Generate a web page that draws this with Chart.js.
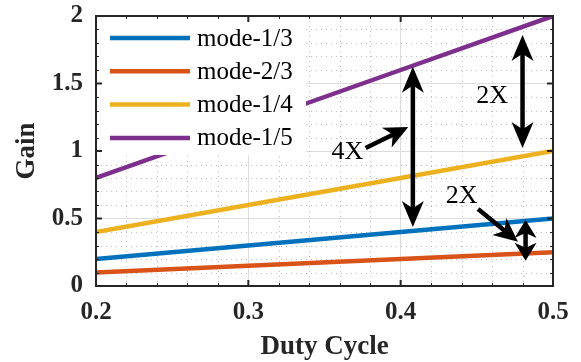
<!DOCTYPE html>
<html>
<head>
<meta charset="utf-8">
<script src="https://cdn.jsdelivr.net/npm/chart.js@4.4.1/dist/chart.umd.min.js"></script>
<style>
html, body { margin: 0; padding: 0; background: #fff; }
</style>
</head>
<body>
<canvas id="drawChart" width="581" height="362"></canvas>
<script>
// data
var duty = [0.2, 0.3, 0.4, 0.5];
var gain13 = [0.2, 0.3, 0.4, 0.5];
var gain23 = [0.1, 0.15, 0.2, 0.25];
var gain14 = [0.4, 0.6, 0.8, 1.0];
var gain15 = [0.8, 1.2, 1.6, 2.0];
var seriesNames = ['mode-1/3', 'mode-2/3', 'mode-1/4', 'mode-1/5'];
var seriesColors = ['#0072BD', '#D95319', '#EDB120', '#7E2F8E'];
var xTicks = [0.2, 0.3, 0.4, 0.5];
var yTicks = [0, 0.5, 1, 1.5, 2];

// annotations (data coordinates)
var arrows = [
	{ x1: 0.408, y1: 0.437, x2: 0.408, y2: 1.624, both: true, head: 26 },
	{ x1: 0.377, y1: 1.022, x2: 0.405, y2: 1.178, both: false, head: 24 },
	{ x1: 0.480, y1: 1.022, x2: 0.480, y2: 1.859, both: true, head: 26 },
	{ x1: 0.4508, y1: 0.570, x2: 0.477, y2: 0.328, both: false, head: 24 },
	{ x1: 0.482, y1: 0.187, x2: 0.482, y2: 0.489, both: true, head: 18 }
];
var notes = [
	{ x: 0.365, y: 1.0, text: '4X' },
	{ x: 0.460, y: 1.415, text: '2X' },
	{ x: 0.440, y: 0.674, text: '2X' }
];

var FONT = "'Liberation Serif', 'Times New Roman', serif";
var INK = '#262626';

function pts(ys) {
	return duty.map(function (d, i) { return { x: d, y: ys[i] }; });
}

var allGains = [gain13, gain23, gain14, gain15];
var datasets = allGains.map(function (g, i) {
	return {
		label: seriesNames[i],
		data: pts(g),
		borderColor: seriesColors[i],
		backgroundColor: seriesColors[i],
		borderWidth: 4.5,
		pointRadius: 0,
		borderCapStyle: 'butt',
		tension: 0
	};
});

function drawHead(ctx, tx, ty, ux, uy, L, W) {
	var nx = -uy, ny = ux;
	ctx.beginPath();
	ctx.moveTo(tx, ty);
	ctx.lineTo(tx - ux * L + nx * W / 2, ty - uy * L + ny * W / 2);
	ctx.lineTo(tx - ux * L * 0.72, ty - uy * L * 0.72);
	ctx.lineTo(tx - ux * L - nx * W / 2, ty - uy * L - ny * W / 2);
	ctx.closePath();
	ctx.fill();
}

var minorGrid = {
	id: 'minorGrid',
	beforeDatasetsDraw: function (chart) {
		var ctx = chart.ctx, a = chart.chartArea;
		var xs = chart.scales.x, ys = chart.scales.y;
		ctx.save();
		ctx.strokeStyle = '#bdbdbd';
		ctx.lineWidth = 1;
		ctx.setLineDash([1, 4]);
		for (var i = 1; i < 15; i++) {
			if (i % 5 === 0) continue;
			var px = Math.round(xs.getPixelForValue(0.2 + i * 0.02)) + 0.5;
			ctx.beginPath(); ctx.moveTo(px, a.top); ctx.lineTo(px, a.bottom); ctx.stroke();
		}
		for (var j = 1; j < 20; j++) {
			if (j % 5 === 0) continue;
			var py = Math.round(ys.getPixelForValue(j * 0.1)) + 0.5;
			ctx.beginPath(); ctx.moveTo(a.left, py); ctx.lineTo(a.right, py); ctx.stroke();
		}
		ctx.restore();
	}
};

var overlay = {
	id: 'overlay',
	afterDatasetsDraw: function (chart) {
		var ctx = chart.ctx, a = chart.chartArea;
		var xs = chart.scales.x, ys = chart.scales.y;
		ctx.save();

		// legend box (opaque, no border)
		ctx.fillStyle = '#fff';
		ctx.fillRect(a.left, a.top, 210, 139);
		ctx.font = '25px ' + FONT;
		ctx.textBaseline = 'middle';
		ctx.textAlign = 'left';
		seriesNames.forEach(function (n, i) {
			var y = a.top + 22 + i * 33.3;
			ctx.strokeStyle = seriesColors[i];
			ctx.lineWidth = 4.5;
			ctx.beginPath(); ctx.moveTo(a.left + 14, y); ctx.lineTo(a.left + 94, y); ctx.stroke();
			ctx.fillStyle = '#000';
			ctx.fillText(n, a.left + 101, y + 1);
		});

		// arrows
		ctx.fillStyle = '#000';
		ctx.strokeStyle = '#000';
		ctx.lineWidth = 4.5;
		arrows.forEach(function (ar) {
			var x1 = xs.getPixelForValue(ar.x1), y1 = ys.getPixelForValue(ar.y1);
			var x2 = xs.getPixelForValue(ar.x2), y2 = ys.getPixelForValue(ar.y2);
			var dx = x2 - x1, dy = y2 - y1, len = Math.sqrt(dx * dx + dy * dy);
			var ux = dx / len, uy = dy / len;
			var L = ar.head, W = 22;
			var sx = ar.both ? x1 + ux * L * 0.7 : x1, sy = ar.both ? y1 + uy * L * 0.7 : y1;
			ctx.beginPath();
			ctx.moveTo(sx, sy);
			ctx.lineTo(x2 - ux * L * 0.7, y2 - uy * L * 0.7);
			ctx.stroke();
			drawHead(ctx, x2, y2, ux, uy, L, W);
			if (ar.both) drawHead(ctx, x1, y1, -ux, -uy, L, W);
		});
		ctx.font = '26px ' + FONT;
		ctx.textAlign = 'center';
		notes.forEach(function (n) {
			ctx.fillText(n.text, xs.getPixelForValue(n.x), ys.getPixelForValue(n.y) + 1);
		});

		// axes box and ticks
		ctx.strokeStyle = INK;
		ctx.lineWidth = 2;
		ctx.strokeRect(a.left, a.top, a.right - a.left, a.bottom - a.top);
		xTicks.forEach(function (v) {
			var px = xs.getPixelForValue(v);
			ctx.beginPath();
			ctx.moveTo(px, a.bottom); ctx.lineTo(px, a.bottom - 6);
			ctx.moveTo(px, a.top); ctx.lineTo(px, a.top + 6);
			ctx.stroke();
		});
		yTicks.forEach(function (v) {
			var py = ys.getPixelForValue(v);
			ctx.beginPath();
			ctx.moveTo(a.left, py); ctx.lineTo(a.left + 6, py);
			ctx.moveTo(a.right, py); ctx.lineTo(a.right - 6, py);
			ctx.stroke();
		});
		ctx.lineWidth = 1;
		for (var i = 1; i < 15; i++) {
			if (i % 5 === 0) continue;
			var px = Math.round(xs.getPixelForValue(0.2 + i * 0.02)) + 0.5;
			ctx.beginPath();
			ctx.moveTo(px, a.bottom); ctx.lineTo(px, a.bottom - 3);
			ctx.moveTo(px, a.top); ctx.lineTo(px, a.top + 3);
			ctx.stroke();
		}
		for (var j = 1; j < 20; j++) {
			if (j % 5 === 0) continue;
			var py = Math.round(ys.getPixelForValue(j * 0.1)) + 0.5;
			ctx.beginPath();
			ctx.moveTo(a.left, py); ctx.lineTo(a.left + 3, py);
			ctx.moveTo(a.right, py); ctx.lineTo(a.right - 3, py);
			ctx.stroke();
		}
		ctx.restore();
	}
};

var ctx = document.getElementById('drawChart').getContext('2d');
var drawChart = new Chart(ctx, {
	type: 'line',
	data: { datasets: datasets },
	plugins: [minorGrid, overlay],
	options: {
		responsive: false,
		devicePixelRatio: 1,
		animation: false,
		layout: { padding: { top: 16, right: 28, left: 0, bottom: 0 } },
		plugins: { legend: { display: false }, tooltip: { enabled: false } },
		scales: {
			x: {
				type: 'linear',
				min: 0.2,
				max: 0.5,
				afterBuildTicks: function (s) { s.ticks = xTicks.map(function (v) { return { value: v }; }); },
				afterFit: function (s) { s.height = 76; s.paddingLeft = 0; s.paddingRight = 0; },
				ticks: {
					padding: 12,
					color: INK,
					font: { family: FONT, size: 25, weight: 'bold' },
					callback: function (v) { return String(v); }
				},
				grid: { color: '#dcdcdc', lineWidth: 1, drawTicks: false },
				border: { display: false },
				title: {
					display: true,
					text: 'Duty Cycle',
					color: INK,
					font: { family: FONT, size: 27, weight: 'bold', lineHeight: 1 },
					padding: { top: 0, bottom: 1.5 }
				}
			},
			y: {
				type: 'linear',
				min: 0,
				max: 2,
				afterBuildTicks: function (s) { s.ticks = yTicks.map(function (v) { return { value: v }; }); },
				afterFit: function (s) { s.width = 96; s.paddingTop = 0; s.paddingBottom = 0; },
				ticks: {
					padding: 13,
					color: INK,
					font: { family: FONT, size: 25, weight: 'bold' },
					callback: function (v) { return String(v); }
				},
				grid: { color: '#dcdcdc', lineWidth: 1, drawTicks: false },
				border: { display: false },
				title: {
					display: true,
					text: 'Gain',
					color: INK,
					font: { family: FONT, size: 27, weight: 'bold', lineHeight: 1 },
					padding: { top: 13.5, bottom: 0 }
				}
			}
		}
	}
});
</script>
</body>
</html>
